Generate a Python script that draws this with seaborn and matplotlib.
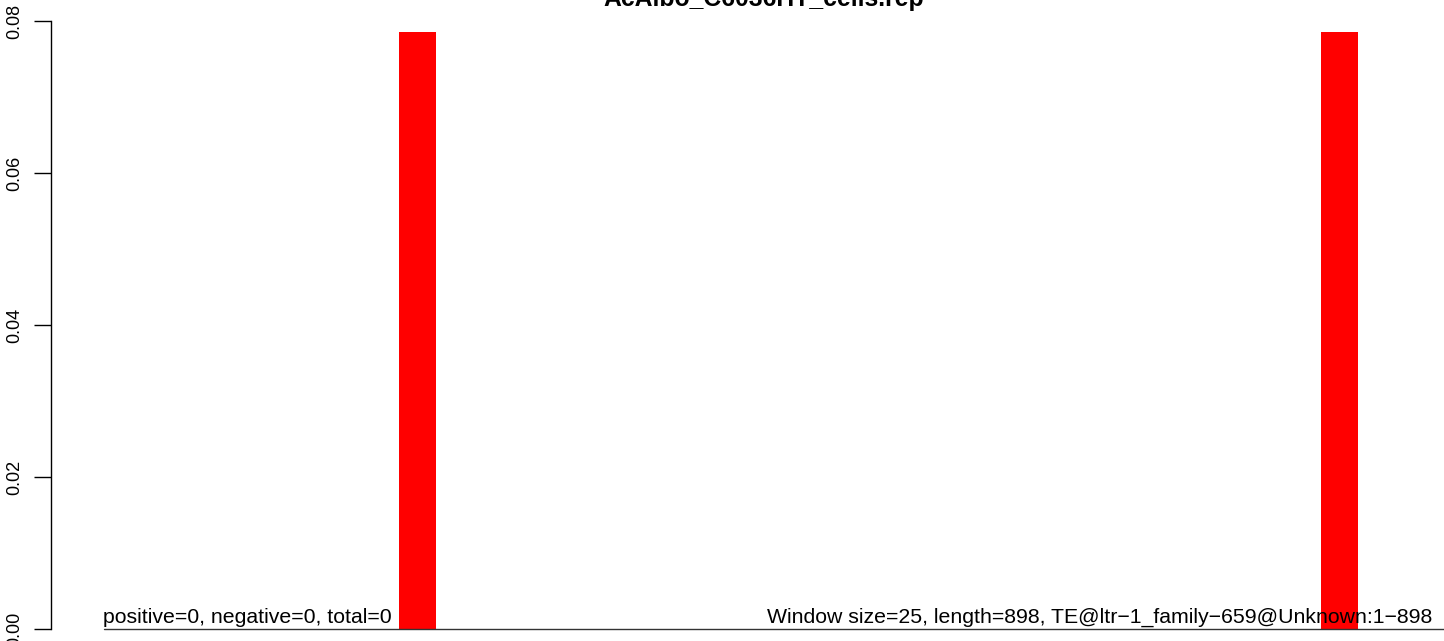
import numpy as np
import pandas as pd
import matplotlib
matplotlib.use("Agg")
import matplotlib.pyplot as plt
import seaborn as sns

# Data: 36 windows of 25 bp over a 898 bp TE
windows = list(range(36))
values = [0.0] * 36
values[8] = 0.0786
values[33] = 0.0786
title = "AcAlbo_C6036HT_cells.rep"
left_note = "positive=0, negative=0, total=0"
right_note = "Window size=25, length=898, TE@ltr\u22121_family\u2212659@Unknown:1\u2212898"
y_ticks = [0.00, 0.02, 0.04, 0.06, 0.08]

sns.set_style("white")
plt.rcParams['font.family'] = ['Liberation Sans', 'DejaVu Sans']
plt.rcParams['text.color'] = 'black'
plt.rcParams['ytick.color'] = 'black'

W, H = 1444, 641
fig = plt.figure(figsize=(W / 100, H / 100), dpi=100)
ax = fig.add_axes([51 / W, 0, (W - 51) / W, 1])

df = pd.DataFrame({'window': windows, 'value': values})
sns.barplot(data=df, x='window', y='value', color='red', saturation=1,
            width=1.0, ax=ax, linewidth=0)

# pixel mapping: window i centre at x0 + slot*(i+0.5)
slot = 36.88
x0 = 399 - 8 * slot
c0 = x0 + slot / 2
ax.set_xlim((51 - c0) / slot, (W - c0) / slot)
ax.set_ylim(-12 / 7600, 629 / 7600)

ax.plot([-0.5, 40], [0, 0], color='#333333', lw=1, clip_on=True)

for s in ['top', 'right', 'bottom']:
    ax.spines[s].set_visible(False)
ax.spines['left'].set_bounds(0, 0.08)
ax.spines['left'].set_color('black')
ax.spines['left'].set_linewidth(1)
ax.set_yticks(y_ticks)
ax.set_yticklabels([f"{t:.2f}" for t in y_ticks], rotation=90, va='center', fontsize=13)
ax.tick_params(axis='y', direction='out', length=12, width=1, pad=8, left=True,
               colors='black')
ax.set_xticks([])
ax.set_xlabel('')
ax.set_ylabel('')

ax.text((103 - c0) / slot, 0.00025, left_note, fontsize=15.3, ha='left', va='bottom', color='black')
ax.text((1432 - c0) / slot, 0.00025, right_note, fontsize=15.3, ha='right', va='bottom', color='black')

fig.text(764 / W, 1 - 6 / H, title, fontsize=17.8, fontweight='bold', ha='center',
         va='baseline', color='black')

fig.savefig('out.png', dpi=100)
